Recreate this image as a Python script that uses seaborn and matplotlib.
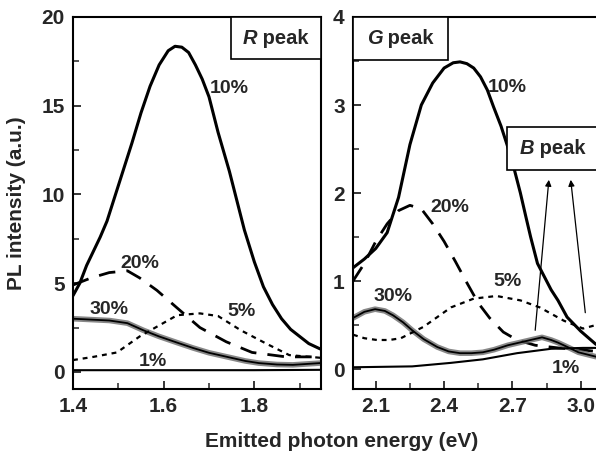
import numpy as np
import pandas as pd
import seaborn as sns
import matplotlib
matplotlib.use("Agg")
import matplotlib.pyplot as plt
from matplotlib.ticker import MultipleLocator, FixedLocator
from matplotlib.patches import Rectangle
from matplotlib.offsetbox import TextArea, HPacker, AnnotationBbox

# ---------------- R peak (left panel) ----------------
r10_x = [1.40, 1.415, 1.43, 1.445, 1.46, 1.475, 1.49, 1.51, 1.53, 1.55, 1.57, 1.59,
         1.61, 1.625, 1.64, 1.655, 1.67, 1.685, 1.70, 1.72, 1.745, 1.76, 1.778,
         1.80, 1.82, 1.84, 1.86, 1.88, 1.90, 1.92, 1.945]
r10_y = [4.3, 5.0, 6.0, 6.8, 7.6, 8.5, 9.7, 11.3, 12.9, 14.6, 16.1, 17.3,
         18.1, 18.35, 18.3, 18.0, 17.3, 16.5, 15.5, 13.5, 11.3, 9.8, 8.0,
         6.2, 4.8, 3.8, 3.0, 2.4, 2.0, 1.6, 1.3]

r20_x = [1.40, 1.44, 1.48, 1.52, 1.547, 1.585, 1.63, 1.68, 1.738, 1.795, 1.87, 1.945]
r20_y = [4.9, 5.3, 5.6, 5.7, 5.3, 4.6, 3.6, 2.5, 1.7, 1.1, 0.85, 0.85]

r30_x = [1.40, 1.44, 1.48, 1.52, 1.555, 1.59, 1.63, 1.665, 1.70, 1.74, 1.78, 1.81,
         1.85, 1.885, 1.945]
r30_y = [3.0, 2.95, 2.9, 2.75, 2.35, 2.0, 1.65, 1.35, 1.08, 0.85, 0.62, 0.5,
         0.42, 0.4, 0.5]

r5_x = [1.40, 1.445, 1.497, 1.547, 1.585, 1.63, 1.68, 1.72, 1.77, 1.826, 1.877, 1.945]
r5_y = [0.67, 0.85, 1.1, 2.0, 2.55, 3.2, 3.3, 3.15, 2.35, 1.6, 0.95, 0.8]

r1_x = [1.40, 1.60, 1.80, 1.945]
r1_y = [0.1, 0.1, 0.1, 0.12]

# ---------------- G peak (right panel) ----------------
g10_x = [2.00, 2.05, 2.10, 2.15, 2.20, 2.25, 2.30, 2.35, 2.40, 2.44, 2.47, 2.50,
         2.53, 2.56, 2.59, 2.617, 2.65, 2.68, 2.71, 2.735, 2.76, 2.78, 2.81,
         2.84, 2.87, 2.90, 2.94, 3.00, 3.067]
g10_y = [1.15, 1.25, 1.37, 1.55, 1.95, 2.55, 3.0, 3.25, 3.42, 3.48, 3.49, 3.47,
         3.42, 3.32, 3.17, 2.98, 2.76, 2.52, 2.25, 2.0, 1.72, 1.5, 1.2,
         1.05, 0.9, 0.78, 0.59, 0.43, 0.28]

g20_x = [2.00, 2.05, 2.10, 2.15, 2.20, 2.25, 2.30, 2.35, 2.40, 2.45, 2.50, 2.55,
         2.60, 2.66, 2.72, 2.80, 2.90, 3.00, 3.067]
g20_y = [1.0, 1.2, 1.45, 1.65, 1.8, 1.86, 1.82, 1.65, 1.45, 1.22, 0.98, 0.75,
         0.58, 0.42, 0.33, 0.27, 0.24, 0.22, 0.2]

g30_x = [2.00, 2.05, 2.097, 2.14, 2.176, 2.22, 2.26, 2.31, 2.37, 2.42, 2.47, 2.52,
         2.57, 2.62, 2.68, 2.73, 2.78, 2.83, 2.87, 2.90, 2.95, 2.99, 3.067]
g30_y = [0.58, 0.65, 0.68, 0.66, 0.61, 0.53, 0.44, 0.34, 0.25, 0.2, 0.18, 0.18,
         0.19, 0.22, 0.27, 0.3, 0.33, 0.36, 0.33, 0.3, 0.24, 0.19, 0.14]

g5_x = [2.00, 2.05, 2.105, 2.16, 2.21, 2.31, 2.37, 2.43, 2.53, 2.63, 2.735, 2.82,
        2.925, 3.01, 3.067]
g5_y = [0.39, 0.35, 0.33, 0.33, 0.35, 0.48, 0.59, 0.7, 0.8, 0.83, 0.78, 0.7,
        0.55, 0.46, 0.5]

g1_x = [2.00, 2.26, 2.43, 2.57, 2.72, 2.87, 3.01, 3.067]
g1_y = [0.02, 0.03, 0.07, 0.11, 0.18, 0.23, 0.24, 0.24]

concentrations = ["10%", "20%", "30%", "5%", "1%"]
r_label_xy = [(1.745, 15.96), (1.547, 6.1), (1.479, 3.5), (1.771, 3.4), (1.576, 0.6)]
g_label_xy = [(2.678, 3.2), (2.427, 1.84), (2.176, 0.82), (2.678, 0.99), (2.934, 0.01)]

# arrows pointing to the B peak box: (tail x, tail y, head x, head y)
b_arrows = [(2.80, 0.44, 2.86, 2.15), (3.02, 0.64, 2.956, 2.15)]

# ---------------- figure ----------------
sns.set_style("ticks")
plt.rcParams["font.family"] = ["Liberation Sans", "DejaVu Sans"]
plt.rcParams["font.weight"] = "bold"

fig = plt.figure(figsize=(5.96, 4.55), dpi=100)
W, H = 596, 455
ax_r = fig.add_axes([73 / W, 1 - 389 / H, (321 - 73) / W, (389 - 17) / H])
ax_g = fig.add_axes([353 / W, 1 - 389 / H, (596 - 353) / W, (389 - 17) / H])

styles = {
    "10%": dict(color="black", lw=2.2, linestyle="-"),
    "20%": dict(color="black", lw=2.0, linestyle=(0, (6, 4))),
    "30%": dict(color="#6a6a6a", lw=4.0, linestyle="-", alpha=0.8),
    "5%": dict(color="black", lw=1.6, linestyle=(0, (2.2, 2.2))),
    "1%": dict(color="black", lw=1.5, linestyle="-"),
}


def draw_panel(ax, series):
    for name, xs, ys in series:
        df = pd.DataFrame({"energy": xs, "intensity": ys})
        sns.lineplot(data=df, x="energy", y="intensity", ax=ax, sort=False,
                     estimator=None, **styles[name])
        if name == "30%":
            sns.lineplot(data=df, x="energy", y="intensity", ax=ax, sort=False,
                         estimator=None, color="black", lw=1.3)


draw_panel(ax_r, [("10%", r10_x, r10_y), ("20%", r20_x, r20_y), ("30%", r30_x, r30_y),
                  ("5%", r5_x, r5_y), ("1%", r1_x, r1_y)])
draw_panel(ax_g, [("10%", g10_x, g10_y), ("20%", g20_x, g20_y), ("30%", g30_x, g30_y),
                  ("5%", g5_x, g5_y), ("1%", g1_x, g1_y)])

ax_r.set_xlim(1.4, 1.947)
ax_r.set_ylim(-0.96, 20)
ax_g.set_xlim(2.0, 3.067)
ax_g.set_ylim(-0.227, 4)

ax_r.xaxis.set_major_locator(FixedLocator([1.4, 1.6, 1.8]))
ax_r.xaxis.set_minor_locator(MultipleLocator(0.1))
ax_r.yaxis.set_major_locator(MultipleLocator(5))
ax_r.yaxis.set_minor_locator(MultipleLocator(2.5))
ax_g.xaxis.set_major_locator(FixedLocator([2.1, 2.4, 2.7, 3.0]))
ax_g.xaxis.set_minor_locator(MultipleLocator(0.15))
ax_g.yaxis.set_major_locator(MultipleLocator(1))
ax_g.yaxis.set_minor_locator(MultipleLocator(0.5))

for ax in (ax_r, ax_g):
    ax.set_xlabel("")
    ax.set_ylabel("")
    ax.tick_params(which="major", direction="in", length=6, width=1.3,
                   labelsize=15, pad=6)
    ax.tick_params(which="minor", direction="in", length=4, width=1.1)
    for lbl in ax.get_xticklabels() + ax.get_yticklabels():
        lbl.set_fontweight("bold")
    for sp in ax.spines.values():
        sp.set_linewidth(1.5)
        sp.set_color("black")
ax_g.spines["right"].set_visible(False)
ax_r.set_xticklabels(["1.4", "1.6", "1.8"])
ax_g.set_xticklabels(["2.1", "2.4", "2.7", "3.0"])

# curve labels
for ax, positions in ((ax_r, r_label_xy), (ax_g, g_label_xy)):
    for name, (x, y) in zip(concentrations, positions):
        ax.text(x, y, name, ha="center", va="center", fontsize=14,
                fontweight="bold")

# arrows toward the B peak box
for x0, y0, x1, y1 in b_arrows:
    ax_g.annotate("", xy=(x1, y1), xytext=(x0, y0),
                  arrowprops=dict(arrowstyle="-|>", color="black", lw=0.9,
                                  mutation_scale=9, shrinkA=0, shrinkB=0))


def peak_box(ax, letter, x0, y0, x1, y1, tx):
    ax.add_patch(Rectangle((x0, y0), x1 - x0, y1 - y0, transform=ax.transAxes,
                           facecolor="white", edgecolor="black", lw=1.2,
                           clip_on=False, zorder=5))
    label = HPacker(children=[
        TextArea(letter, textprops=dict(fontsize=14.5, fontweight="bold",
                                        fontstyle="italic")),
        TextArea(" peak", textprops=dict(fontsize=14.5, fontweight="bold")),
    ], align="baseline", pad=0, sep=0)
    ab = AnnotationBbox(label, (tx, (y0 + y1) / 2), xycoords="axes fraction",
                        frameon=False, box_alignment=(0.5, 0.5), zorder=6,
                        annotation_clip=False)
    ax.add_artist(ab)


peak_box(ax_r, "R", 0.637, 0.887, 1.0, 1.0, 0.818)
peak_box(ax_g, "G", 0.0, 0.884, 0.391, 1.0, 0.195)
peak_box(ax_g, "B", 0.634, 0.589, 1.3, 0.704, 0.822)

fig.text(17 / W, 1 - 203 / H, "PL intensity (a.u.)", rotation=90, ha="center",
         va="center", fontsize=15, fontweight="bold")
fig.text(342 / W, 1 - 447 / H, "Emitted photon energy (eV)", ha="center",
         va="baseline", fontsize=15, fontweight="bold")

fig.savefig("out.png", dpi=100)
